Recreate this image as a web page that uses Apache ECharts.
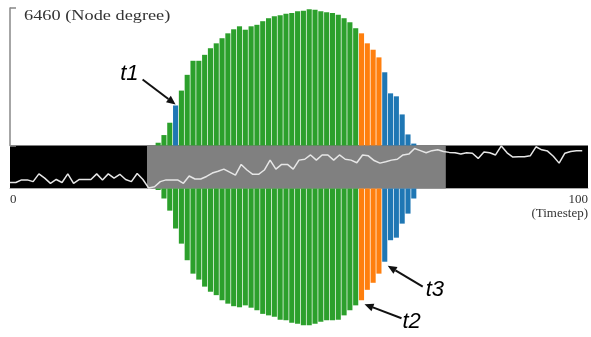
<!DOCTYPE html>
<html>
<head>
<meta charset="utf-8">
<script src="https://cdn.jsdelivr.net/npm/echarts@6/dist/echarts.min.js"></script>
<style>
  html, body { margin: 0; padding: 0; background: #fff; }
  #chart { width: 591px; height: 337px; }
</style>
</head>
<body>
<div id="chart"></div>
<script>
// Scale of the node-degree histogram
const maxDegree = 6460;
// Timestep covered by the first histogram bar
const firstStep = 25;

// Node degree per timestep, drawn above the timeline band
const upperDegree = [130, 490, 1070, 1880, 2580, 3320, 3980, 3980, 4260, 4570, 4800, 5040, 5270, 5460, 5600,
  5440, 5600, 5670, 5840, 5980, 6070, 6120, 6190, 6220, 6310, 6330, 6400, 6380, 6310, 6260, 6220, 6140,
  5980, 5790, 5510, 5270, 4800, 4500, 4140, 3440, 2450, 2310, 1460, 520, 90];

// Node degree per timestep, drawn below the timeline band
const lowerDegree = [70, 470, 1040, 1880, 2590, 3370, 4000, 4280, 4610, 4850, 5010, 5250, 5410, 5530, 5580,
  5490, 5600, 5720, 5890, 5960, 6030, 6170, 6190, 6310, 6360, 6430, 6430, 6360, 6260, 6190, 6190, 6170,
  5960, 5720, 5490, 5250, 4760, 4430, 4000, 3440, 2430, 2310, 1650, 1180, 470];

// Overview signal across all timesteps (0 = band bottom, 100 = band top)
const timeline = [14, 14, 20, 20, 16, 34, 24, 12, 21, 14, 34, 12, 21, 21, 21, 34, 20, 34, 24, 33,
  21, 16, 35, 21, 1, 4, 16, 20, 20, 20, 12, 29, 22, 22, 28, 36, 40, 45, 38, 31,
  56, 43, 33, 33, 43, 66, 45, 56, 56, 45, 66, 68, 78, 66, 78, 78, 66, 78, 68, 66,
  60, 78, 76, 65, 59, 62, 66, 68, 78, 80, 93, 88, 83, 88, 90, 86, 84, 83, 80, 83,
  82, 70, 85, 83, 78, 99, 83, 73, 74, 74, 76, 97, 90, 87, 75, 59, 82, 86, 88, 88];

// Selected time window shown in grey on the band
const windowRange = [23.7, 75.4];

// Marked timesteps
const marks = { t1: 28, t2: 60, t3: 64 };

// Timestep axis extent
const stepRange = [0, 100];

const GREEN = '#2ca02c', ORANGE = '#ff7f0e', BLUE = '#1f77b4';

function phaseColor(step, upper) {
  if (step >= marks.t3) return BLUE;
  if (step >= marks.t2) return ORANGE;
  if (upper && step === marks.t1) return BLUE;
  return GREEN;
}

// Each histogram bar spans one timestep [step, step + 1]
function histogramSeries(values, upper, axisIndex) {
  return {
    type: 'custom', xAxisIndex: axisIndex, yAxisIndex: axisIndex,
    data: values.map((v, i) => [firstStep + i, v]),
    renderItem: (params, api) => {
      const step = api.value(0), v = api.value(1);
      const a = api.coord([step, 0]);
      const b = api.coord([step + 1, v]);
      const seam = 0.7;
      return {
        type: 'rect',
        shape: {
          x: a[0] + seam / 2, y: Math.min(a[1], b[1]),
          width: b[0] - a[0] - seam, height: Math.abs(b[1] - a[1])
        },
        style: { fill: phaseColor(step, upper) }
      };
    }
  };
}

const chart = echarts.init(document.getElementById('chart'), null, { renderer: 'canvas' });

const hiddenX = (gi) => ({
  type: 'value', gridIndex: gi, min: stepRange[0], max: stepRange[1], show: false
});

chart.setOption({
  animation: false,
  backgroundColor: '#fff',
  grid: [
    { left: 10, right: 0, top: 8, height: 137.5 },
    { left: 10, right: 0, top: 145.5, height: 43, show: true, backgroundColor: '#000', borderWidth: 0 },
    { left: 10, right: 0, top: 188.5, height: 137.5 }
  ],
  xAxis: [
    hiddenX(0),
    {
      type: 'value', gridIndex: 1, min: stepRange[0], max: stepRange[1], interval: stepRange[1],
      axisLine: { show: true, lineStyle: { color: '#aaa', width: 1 } },
      axisTick: { show: false },
      splitLine: { show: false },
      axisLabel: {
        margin: 4,
        fontFamily: 'Liberation Serif', fontSize: 13, color: '#333', lineHeight: 14,
        alignMinLabel: 'left', alignMaxLabel: 'right',
        formatter: (v) => v === stepRange[1] ? v + '\n(Timestep)' : String(v)
      }
    },
    hiddenX(2)
  ],
  yAxis: [
    {
      type: 'value', gridIndex: 0, min: 0, max: maxDegree, interval: maxDegree,
      axisLine: { show: true, lineStyle: { color: '#888', width: 1.5 } },
      axisTick: { show: true, inside: true, length: 6, lineStyle: { color: '#888', width: 1.5 } },
      axisLabel: { show: false },
      splitLine: { show: false }
    },
    { type: 'value', gridIndex: 1, min: 0, max: 100, show: false },
    { type: 'value', gridIndex: 2, min: 0, max: maxDegree, inverse: true, show: false }
  ],
  series: [
    histogramSeries(upperDegree, true, 0),
    histogramSeries(lowerDegree, false, 2),
    {
      type: 'line', xAxisIndex: 1, yAxisIndex: 1, data: [], z: 1,
      markArea: {
        silent: true,
        itemStyle: { color: '#808080', opacity: 1 },
        data: [[{ xAxis: windowRange[0] }, { xAxis: windowRange[1] }]]
      }
    },
    {
      type: 'line', xAxisIndex: 1, yAxisIndex: 1, z: 5,
      symbol: 'none', smooth: false,
      lineStyle: { color: '#e6e6e6', width: 1.5 },
      data: timeline.map((v, i) => [i, v])
    }
  ]
});

// Labels and arrows for the marked timesteps
function px(grid, step, value) {
  return chart.convertToPixel({ gridIndex: grid }, [step, value]);
}

function arrow(tail, tip) {
  const dx = tip[0] - tail[0], dy = tip[1] - tail[1];
  const len = Math.hypot(dx, dy), ux = dx / len, uy = dy / len;
  const head = 9, half = 4;
  const bx = tip[0] - ux * head, by = tip[1] - uy * head;
  return [
    { type: 'line', shape: { x1: tail[0], y1: tail[1], x2: bx, y2: by },
      style: { stroke: '#111', lineWidth: 2 }, z: 20 },
    { type: 'polygon', shape: { points: [tip, [bx - uy * half, by + ux * half], [bx + uy * half, by - ux * half]] },
      style: { fill: '#111' }, z: 20 }
  ];
}

const labelFont = 'italic 22px "Liberation Sans", sans-serif';

const t1Idx = marks.t1 - firstStep, t2Idx = marks.t2 - firstStep, t3Idx = marks.t3 - firstStep;
const t1Tip = px(0, marks.t1 + 0.5, upperDegree[t1Idx]);
t1Tip[1] -= 1;
const t1Tail = [t1Tip[0] - 33, t1Tip[1] - 25];
const t2Tip = px(2, marks.t2 + 0.5, lowerDegree[t2Idx]);
t2Tip[0] += 3; t2Tip[1] += 4;
const t2Tail = [t2Tip[0] + 37, t2Tip[1] + 14];
const t3Tip = px(2, marks.t3 + 0.5, lowerDegree[t3Idx]);
t3Tip[0] += 3; t3Tip[1] += 4;
const t3Tail = [t3Tip[0] + 35, t3Tip[1] + 21];

const yTop = px(0, 0, maxDegree);

chart.setOption({
  graphic: [
    ...arrow(t1Tail, t1Tip),
    ...arrow(t2Tail, t2Tip),
    ...arrow(t3Tail, t3Tip),
    { type: 'text', x: t1Tail[0] - 4, y: t1Tail[1] - 6, z: 21,
      style: { text: 't1', font: labelFont, fill: '#000', align: 'right', verticalAlign: 'middle' } },
    { type: 'text', x: t2Tail[0] + 1, y: t2Tail[1] + 4, z: 21,
      style: { text: 't2', font: labelFont, fill: '#000', align: 'left', verticalAlign: 'middle' } },
    { type: 'text', x: t3Tail[0] + 3, y: t3Tail[1] + 3, z: 21,
      style: { text: 't3', font: labelFont, fill: '#000', align: 'left', verticalAlign: 'middle' } },
    { type: 'text', x: yTop[0] + 14, y: yTop[1] + 1, z: 21, scaleX: 1.22,
      style: { text: maxDegree + ' (Node degree)', font: '15px "Liberation Serif", serif',
               fill: '#333', align: 'left', verticalAlign: 'top' } }
  ]
});
</script>
</body>
</html>
